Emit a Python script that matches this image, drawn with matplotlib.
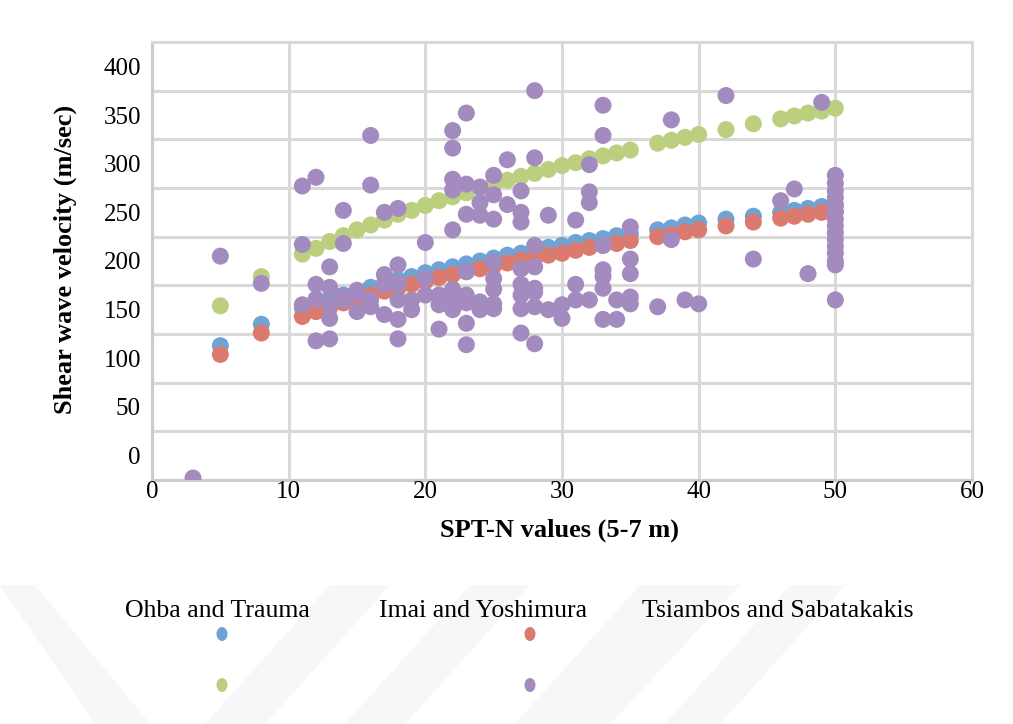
import matplotlib
matplotlib.use("Agg")
import matplotlib.pyplot as plt
from matplotlib.patches import Ellipse, Polygon

# SPT-N values at which the empirical correlations are evaluated
spt_n = [5, 8, 11, 12, 13, 14, 15, 16, 17, 18, 19, 20, 21, 22, 23, 24, 25,
         26, 27, 28, 29, 30, 31, 32, 33, 34, 35, 37, 38, 39, 40, 42, 44, 46,
         47, 48, 49, 50]

# Shear wave velocity (m/sec) from each correlation
ohba_trauma = [113, 135, 152, 156, 161, 165, 169, 173, 177, 181, 184, 188, 191,
               194, 197, 200, 203, 206, 208, 211, 214, 216, 219, 221, 223, 226,
               228, 232, 234, 237, 239, 243, 246, 250, 252, 254, 256, 257]
imai_yoshimura = [104, 126, 143, 148, 152, 157, 161, 165, 169, 172, 176, 179,
                  183, 186, 189, 192, 195, 198, 201, 203, 206, 208, 211, 214,
                  216, 218, 221, 225, 227, 230, 232, 236, 240, 244, 246, 248,
                  250, 251]
tsiambos_sabatakakis = [154, 184, 207, 213, 220, 226, 232, 237, 242, 248, 252,
                        257, 262, 266, 270, 275, 279, 283, 287, 290, 294, 298,
                        301, 305, 308, 311, 314, 321, 324, 327, 330, 335, 341,
                        346, 349, 352, 354, 357]

# Measured shear wave velocities
measured_n = [3,
              5,
              8,
              11, 11, 11,
              12, 12, 12, 12,
              13, 13, 13, 13, 13,
              14, 14, 14, 14,
              15, 15, 15,
              16, 16, 16, 16,
              17, 17, 17, 17,
              18, 18, 18, 18, 18, 18,
              19, 19,
              20, 20, 20,
              21, 21, 21,
              22, 22, 22, 22, 22, 22, 22, 22,
              23, 23, 23, 23, 23, 23, 23, 23,
              24, 24, 24, 24, 24,
              25, 25, 25, 25, 25, 25, 25, 25,
              26, 26,
              27, 27, 27, 27, 27, 27, 27, 27,
              28, 28, 28, 28, 28, 28, 28, 28,
              29, 29,
              30, 30,
              31, 31, 31,
              32, 32, 32, 32,
              33, 33, 33, 33, 33, 33, 33,
              34, 34,
              35, 35, 35, 35, 35,
              37,
              38, 38,
              39,
              40,
              42,
              44,
              46,
              47,
              48,
              49,
              50, 50, 50, 50, 50, 50, 50, 50, 50, 50, 50, 50, 50, 50, 50]
measured_vs = [-23,
               205,
               177,
               277, 217, 155,
               286, 176, 161, 118,
               194, 173, 155, 141, 120,
               252, 218, 163, 160,
               170, 166, 148,
               329, 278, 160, 153,
               250, 186, 176, 145,
               254, 196, 177, 160, 140, 120,
               160, 150,
               219, 182, 165,
               165, 155, 130,
               334, 316, 284, 273, 232, 171, 161, 150,
               352, 279, 248, 189, 165, 157, 136, 114,
               276, 260, 247, 158, 150,
               288, 268, 243, 199, 182, 171, 156, 151,
               304, 258,
               272, 250, 240, 192, 176, 165, 151, 126,
               375, 306, 216, 194, 172, 168, 153, 115,
               247, 150,
               155, 141,
               242, 176, 160,
               299, 271, 260, 160,
               360, 329, 216, 191, 184, 172, 140,
               160, 140,
               235, 202, 187, 163, 156,
               153,
               345, 222,
               160,
               156,
               370,
               202,
               262,
               274,
               187,
               363,
               288, 280, 272, 265, 258, 250, 243, 236, 229, 222, 215, 208,
               200, 196, 160]

series_names = ["Ohba and Trauma", "Imai and Yoshimura", "Tsiambos and Sabatakakis"]
x_ticks = [0, 10, 20, 30, 40, 50, 60]
y_ticks = [0, 50, 100, 150, 200, 250, 300, 350, 400]

C_BLUE = "#6fa3d6"
C_RED = "#db7a6f"
C_GREEN = "#bbcf7e"
C_PURPLE = "#a48bbf"
GRID = "#d9d9d9"

plt.rcParams["font.family"] = ["Liberation Serif", "DejaVu Serif"]

W, H = 1013, 724
fig = plt.figure(figsize=(W / 100, H / 100), dpi=100)


def fx(px):
    return px / W


def fy(py):
    return 1 - py / H


# faint diagonal watermark bands in the lower part of the page
bands = [
    [(0, 585), (35, 585), (150, 724), (95, 724)],
    [(330, 585), (390, 585), (265, 724), (205, 724)],
    [(470, 585), (530, 585), (405, 724), (345, 724)],
    [(640, 585), (740, 585), (610, 724), (515, 724)],
    [(790, 585), (845, 585), (720, 724), (665, 724)],
]
for b in bands:
    fig.patches.append(Polygon([(fx(x), fy(y)) for x, y in b], closed=True,
                               transform=fig.transFigure, facecolor="#f7f7f7",
                               edgecolor="none", zorder=0))

ax = fig.add_axes([fx(152), fy(480), fx(972) - fx(152), fy(42) - fy(480)])
ax.set_facecolor("none")

ms = 150
ax.scatter(spt_n, ohba_trauma, s=ms, color=C_BLUE, edgecolors="none", zorder=3)
ax.scatter(spt_n, imai_yoshimura, s=ms, color=C_RED, edgecolors="none", zorder=4)
ax.scatter(spt_n, tsiambos_sabatakakis, s=ms, color=C_GREEN, edgecolors="none", zorder=5)
ax.scatter(measured_n, measured_vs, s=ms, color=C_PURPLE, edgecolors="none", zorder=6)

ax.set_xlim(0, 60)
ax.set_ylim(-25, 425)
ax.set_xticks(x_ticks)
ax.set_xticklabels([str(v) for v in x_ticks])
ax.set_yticks(y_ticks)
ax.set_yticklabels([str(v) for v in y_ticks])

ax.grid(False)
for v in x_ticks:
    ax.axvline(v, color=GRID, lw=2.2, zorder=1)
for v in [v - 25 for v in y_ticks] + [425]:
    ax.axhline(v, color=GRID, lw=2.2, zorder=1)
for s in ax.spines.values():
    s.set_color(GRID)
    s.set_linewidth(2.2)
    s.set_zorder(1)
ax.spines["left"].set_color("#cccccc")
ax.spines["bottom"].set_color("#cccccc")

ax.tick_params(axis="both", which="both", length=0, labelsize=18, colors="black")
ax.tick_params(axis="x", pad=1)
ax.tick_params(axis="y", pad=8)

fig.text(fx(560), fy(530), "SPT-N values (5-7 m)", ha="center", va="center",
         fontsize=19, fontweight="bold")
fig.text(fx(65), fy(259), "Shear wave velocity (m/sec)", ha="center", va="center",
         rotation=90, fontsize=19, fontweight="bold")

# legend laid out below the plot
label_pos = [(217, 611), (483, 611), (778, 611)]
for name, (x, y) in zip(series_names, label_pos):
    fig.text(fx(x), fy(y), name, ha="center", va="center", fontsize=18.5)

key_pos = [((222, 634), C_BLUE), ((530, 634), C_RED),
           ((222, 685), C_GREEN), ((530, 685), C_PURPLE)]
for (x, y), c in key_pos:
    fig.patches.append(Ellipse((fx(x), fy(y)), width=11 / W, height=14 / H,
                               transform=fig.transFigure, facecolor=c,
                               edgecolor="none", zorder=2))

fig.savefig("out.png", dpi=100)
